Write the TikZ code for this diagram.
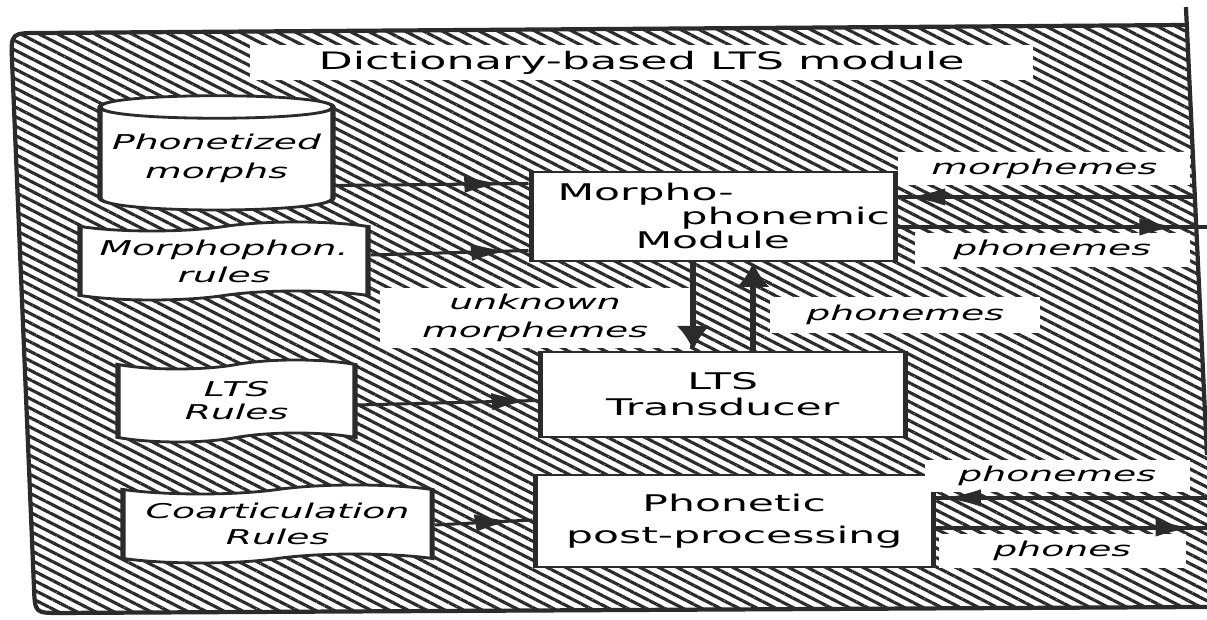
\documentclass[tikz,border=0pt]{standalone}
\usepackage{fontspec}
\setmainfont{DejaVu Sans}[ItalicFont={DejaVu Sans Oblique},BoldFont={DejaVu Sans Bold}]
\usetikzlibrary{patterns.meta,shapes.symbols,calc,decorations.markings,arrows.meta}
\definecolor{ink}{gray}{0.17}
\newcommand\fs[2]{\fontsize{#1pt}{#2pt}\selectfont}
\newcommand\pw[1]{#1*0.0162162cm}
\newcommand\ph[1]{#1*0.03cm}
\begin{document}
\begin{tikzpicture}[
  box/.style={draw=ink, line width=2.4pt, fill=white, inner sep=0pt},
  lbl/.style={fill=white, inner sep=0pt},
  ital/.style={font={\itshape\fs{17.4}{#1}}},
  upr/.style={font={\fs{19.6}{#1}}},
  harr/.style={draw=ink, line width=2.6pt, postaction=decorate,
    decoration={markings, mark=at position #1 with {\arrow{Latex[length=17pt,width=15pt]}}}},
  varr/.style={draw=ink, line width=2.6pt, -{Latex[length=21pt,width=15pt]}}
]
\useasboundingbox (0,0) rectangle (36.21cm,-18.6cm);
\fill[white] (0,0) rectangle (36.21cm,-18.6cm);
% frame and hatching
\begin{scope}[x=0.03cm,y=-0.03cm]
  \path[pattern={Lines[angle=-27,distance=7.2pt,line width=2.7pt]}, pattern color=ink]
    (1187,25) -- (40,33) .. controls (11,33) .. (12,60) -- (34,588)
    .. controls (35,613) .. (60,613) -- (1207,607) -- (1207,455) -- cycle;
  \draw[ink, line width=3.6pt] (1207,607) -- (60,613) .. controls (35,613) .. (34,588)
    -- (12,60) .. controls (11,33) .. (40,33) -- (1187,25);
  \draw[ink, line width=3.6pt] (1186,7) -- (1207,455);
\end{scope}
% content, stretched horizontally like the reference
\begin{scope}[x=0.0162162cm, y=-0.03cm, transform canvas={xscale=1.85}]
  % title
  \node[lbl, minimum width=\pw{783}, minimum height=\ph{35}, font={\fs{20.5}{24}}] (title) at (641.5,62.5) {Dictionary-based LTS module};
  % cylinder
  \draw[box] (100,107) -- (100,198) .. controls (100,214) and (333,214) .. (333,198)
    -- (333,107) .. controls (333,92) and (100,92) .. (100,107) -- cycle;
  \draw[ink, line width=2.4pt] (100,107) .. controls (100,122) and (333,122) .. (333,107);
  \node[inner sep=0pt, minimum width=\pw{233}, minimum height=\ph{103}, align=center, ital=24.8] (pm) at (216.5,158.5) {Phonetized\\morphs};
  % tapes
  \node[tape, box, minimum width=\pw{288}, minimum height=\ph{78}, tape bend height=\ph{9}, align=center, ital=23] (mr) at (224,261) {Morphophon.\\rules};
  \node[tape, box, minimum width=\pw{237}, minimum height=\ph{82}, tape bend height=\ph{9}, align=center, ital=19.6] (ltsr) at (236.5,401) {LTS\\Rules};
  \node[tape, box, minimum width=\pw{309}, minimum height=\ph{78}, tape bend height=\ph{9}, align=center, ital=22.2] (cr) at (277.5,524) {Coarticulation\\Rules};
  % process boxes
  \node[box, minimum width=\pw{364}, minimum height=\ph{89}] (mpm) at (713,216.5) {};
  \node[anchor=base west, inner sep=0pt, upr=23] (mpmA) at (557,201) {Morpho-};
  \node[anchor=base west, inner sep=0pt, upr=23] (mpmB) at (680,225) {phonemic};
  \node[anchor=base west, inner sep=0pt, upr=23] (mpmC) at (635,249) {Module};
  \node[box, minimum width=\pw{365}, minimum height=\ph{85}, align=center, upr=22.2] (ltst) at (722.5,394.5) {LTS\\Transducer};
  \node[box, minimum width=\pw{398}, minimum height=\ph{92}, align=center, upr=27.3] (ppp) at (734,521) {Phonetic\\post-processing};
  % labels
  \node[lbl, minimum width=\pw{292}, minimum height=\ph{33}, ital=22] (lm) at (1044,168.5) {morphemes};
  \node[lbl, minimum width=\pw{275}, minimum height=\ph{34}, ital=22] (lp) at (1052,250) {phonemes};
  \node[lbl, minimum width=\pw{310}, minimum height=\ph{60}, align=center, ital=24] (lu) at (535,318) {unknown\\morphemes};
  \node[lbl, minimum width=\pw{270}, minimum height=\ph{36}, ital=22] (lp2) at (905,315) {phonemes};
  \node[lbl, minimum width=\pw{265}, minimum height=\ph{32}, ital=22] (lp3) at (1057,476) {phonemes};
  \node[lbl, minimum width=\pw{247}, minimum height=\ph{34}, ital=22] (lph) at (1062,551) {phones};
  % input arrows
  \draw[harr=0.86] ($(pm.east)+(0,27)$) -- ($(mpm.west)+(0,-33)$);
  \draw[harr=0.87] ($(mr.east)+(0,-6)$) -- ($(mpm.west)+(0,34)$);
  \draw[harr=0.95] ($(ltsr.east)+(0,4)$) -- ($(ltst.west)+(0,6)$);
  \draw[harr=0.79] ($(cr.east)+(0,1)$) -- ($(ppp.west)+(0,-1)$);
  % vertical arrows
  \coordinate (d1) at ($(mpm.south)+(-20,0)$);
  \coordinate (u1) at ($(mpm.south)+(40,0)$);
  \draw[varr] (d1) -- (d1 |- ltst.north);
  \draw[varr] (u1 |- ltst.north) -- (u1);
  % right side arrows
  \coordinate (r1) at (1195,197);
  \coordinate (r2) at (1207,227);
  \coordinate (r3) at (1207,498);
  \coordinate (r4) at (1207,528);
  \draw[harr=0.965] (r1) -- (mpm.east |- r1);
  \draw[harr=0.9] (mpm.east |- r2) -- (r2);
  \draw[harr=0.97] (r3) -- (ppp.east |- r3);
  \draw[harr=0.945] (ppp.east |- r4) -- (r4);
\end{scope}
\end{tikzpicture}
\end{document}
